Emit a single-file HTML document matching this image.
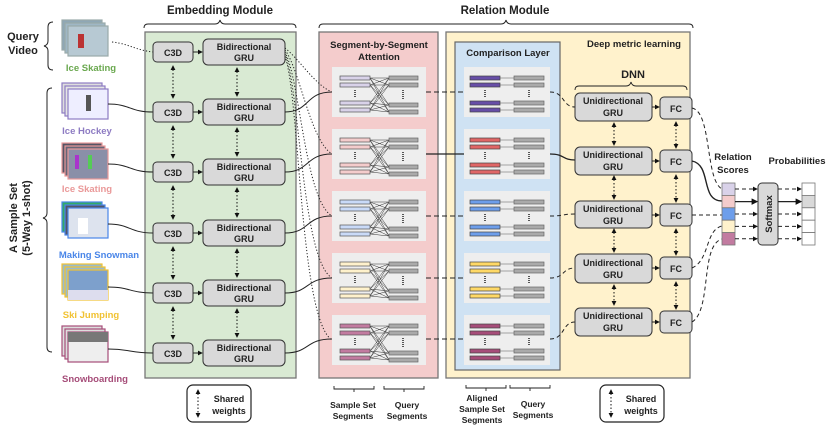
<!DOCTYPE html>
<html><head><meta charset="utf-8"><style>
html,body{margin:0;padding:0;background:#fff}
svg{display:block}
text{font-family:"Liberation Sans",Arial,sans-serif;font-weight:bold;fill:#222}
</style></head><body>
<svg width="830" height="427" viewBox="0 0 830 427" xmlns="http://www.w3.org/2000/svg">
<defs>
<marker id="ah" viewBox="0 0 6 6" refX="5" refY="3" markerWidth="5" markerHeight="5" orient="auto-start-reverse"><path d="M0,0L6,3L0,6z" fill="#111"/></marker>
<g id="pA">
<rect x="0" y="0" width="94" height="50" fill="#eeeeee"/>
<g stroke="#333" stroke-width="0.5">
<path d="M38,11L57,11M38,11L57,18M38,11L57,38M38,11L57,45M38,18L57,11M38,18L57,18M38,18L57,38M38,18L57,45M38,36L57,11M38,36L57,18M38,36L57,38M38,36L57,45M38,43L57,11M38,43L57,18M38,43L57,38M38,43L57,45"/>
</g>
<g stroke="#555" stroke-width="0.7">
<rect x="8" y="9" width="30" height="4"/><rect x="8" y="16" width="30" height="4"/>
<rect x="8" y="34" width="30" height="4"/><rect x="8" y="41" width="30" height="4"/>
</g>
<g stroke="#666" stroke-width="0.7" fill="#aaa">
<rect x="57" y="9" width="29" height="4"/><rect x="57" y="16" width="29" height="4"/>
<rect x="57" y="36" width="29" height="4"/><rect x="57" y="43" width="29" height="4"/>
</g>
<g stroke="#222" stroke-width="1.5" stroke-dasharray="1,1">
<line x1="23" y1="23" x2="23" y2="31"/><line x1="71" y1="23" x2="71" y2="32"/>
</g>
</g>
<g id="pB">
<rect x="0" y="0" width="86" height="50" fill="#eeeeee"/>
<g stroke="#888" stroke-width="0.8">
<path d="M36,11L50,11M36,18L50,18M36,36L50,36M36,43L50,43"/>
</g>
<g stroke="#444" stroke-width="0.7">
<rect x="6" y="9" width="30" height="4"/><rect x="6" y="16" width="30" height="4"/>
<rect x="6" y="34" width="30" height="4"/><rect x="6" y="41" width="30" height="4"/>
</g>
<g stroke="#666" stroke-width="0.7" fill="#aaa">
<rect x="50" y="9" width="30" height="4"/><rect x="50" y="16" width="30" height="4"/>
<rect x="50" y="34" width="30" height="4"/><rect x="50" y="41" width="30" height="4"/>
</g>
<g stroke="#222" stroke-width="1.5" stroke-dasharray="1,1">
<line x1="21" y1="23" x2="21" y2="31"/><line x1="65" y1="23" x2="65" y2="31"/>
</g>
</g>
</defs>

<text x="220" y="14" font-size="11.5" text-anchor="middle">Embedding Module</text>
<path d="M144,28 q0,-4 4,-4 h67 q4,0 5,-4 q1,4 5,4 h67 q4,0 4,4" fill="none" stroke="#222" stroke-width="1"/>
<text x="505" y="14" font-size="11.5" text-anchor="middle">Relation Module</text>
<path d="M319,28 q0,-4 4,-4 h178 q4,0 5,-4 q1,4 5,4 h178 q4,0 4,4" fill="none" stroke="#222" stroke-width="1"/>

<rect x="145" y="32" width="151" height="346" fill="#d9ead3" stroke="#777" stroke-width="1.3"/>
<rect x="319" y="32" width="119" height="346" fill="#f4cccc" stroke="#777" stroke-width="1.3"/>
<rect x="446" y="32" width="244" height="346" fill="#fff2cc" stroke="#777" stroke-width="1.3"/>
<rect x="455" y="42" width="105" height="328" fill="#cfe2f3" stroke="#666" stroke-width="1.2"/>
<text x="379" y="48" font-size="9.5" text-anchor="middle">Segment-by-Segment</text>
<text x="379" y="60" font-size="9.5" text-anchor="middle">Attention</text>
<text x="508" y="56" font-size="9.5" text-anchor="middle">Comparison Layer</text>
<text x="634" y="47" font-size="9.5" text-anchor="middle">Deep metric learning</text>
<text x="633" y="78" font-size="11" text-anchor="middle">DNN</text>
<path d="M575,90 q0,-4 4,-4 h47 q4,0 5,-4 q1,4 5,4 h47 q4,0 4,4" fill="none" stroke="#222" stroke-width="0.9"/>

<text x="23" y="40" font-size="11" text-anchor="middle">Query</text>
<text x="23" y="54" font-size="11" text-anchor="middle">Video</text>
<path d="M53,22 q-5,0 -5,5 v14 q0,4 -4,5 q4,1 4,5 v14 q0,5 5,5" fill="none" stroke="#222" stroke-width="1"/>
<text transform="translate(17,218) rotate(-90)" font-size="11" text-anchor="middle">A Sample Set</text>
<text transform="translate(30,218) rotate(-90)" font-size="11" text-anchor="middle">(5-Way 1-shot)</text>
<path d="M52,88 q-5,0 -5,5 v120 q0,4 -4,5 q4,1 4,5 v124 q0,5 5,5" fill="none" stroke="#222" stroke-width="1"/>

<g stroke-width="1.2">
<g stroke="#9aa"><rect x="62" y="20" width="40" height="30" fill="#8fa7b5"/><rect x="65" y="23" width="40" height="30" fill="#9fb7c5"/><rect x="68" y="26" width="40" height="30" fill="#b7c9d3"/><rect x="78" y="34" width="6" height="14" fill="#b33" stroke="none"/></g>
<g stroke="#8e7cc3"><rect x="62" y="83" width="40" height="30" fill="#ddd"/><rect x="65" y="86" width="40" height="30" fill="#e5e5e5"/><rect x="68" y="89" width="40" height="30" fill="#eef"/><rect x="86" y="95" width="5" height="16" fill="#555" stroke="none"/></g>
<g stroke="#ea9999"><rect x="62" y="143" width="40" height="30" fill="#556"/><rect x="65" y="146" width="40" height="30" fill="#667"/><rect x="68" y="149" width="40" height="30" fill="#8a8fa8"/><rect x="75" y="155" width="4" height="14" fill="#a3c" stroke="none"/><rect x="88" y="155" width="4" height="14" fill="#5c5" stroke="none"/></g>
<g stroke="#4a86e8"><rect x="62" y="202" width="40" height="30" fill="#3a6"/><rect x="65" y="205" width="40" height="30" fill="#556"/><rect x="68" y="208" width="40" height="30" fill="#dde3ee"/><rect x="78" y="218" width="10" height="16" fill="#fff" stroke="none"/></g>
<g stroke="#f1c232"><rect x="62" y="264" width="40" height="30" fill="#9bc"/><rect x="65" y="267" width="40" height="30" fill="#9bc"/><rect x="68" y="270" width="40" height="30" fill="#7da0cc"/><rect x="68" y="290" width="40" height="10" fill="#dde" stroke="none"/></g>
<g stroke="#a64d79"><rect x="62" y="326" width="40" height="30" fill="#ddd"/><rect x="65" y="329" width="40" height="30" fill="#ddd"/><rect x="68" y="332" width="40" height="30" fill="#eee"/><rect x="68" y="332" width="40" height="10" fill="#777" stroke="none"/></g>
</g>
<g font-size="9.5" text-anchor="middle">
<text x="91" y="71" style="fill:#6aa84f">Ice Skating</text>
<text x="87" y="134" style="fill:#8e7cc3">Ice Hockey</text>
<text x="87" y="192" style="fill:#ea9999">Ice Skating</text>
<text x="99" y="258" style="fill:#4a86e8">Making Snowman</text>
<text x="91" y="318" style="fill:#f1c232">Ski Jumping</text>
<text x="95" y="382" style="fill:#a64d79">Snowboarding</text>
</g>

<path d="M112,42 C130,44 135,50 153,52" fill="none" stroke="#222" stroke-width="1" stroke-dasharray="1.2,2"/>
<g fill="none" stroke="#222" stroke-width="1">
<path d="M108,104 C130,104 130,112 153,112"/>
<path d="M108,164 C130,164 130,172 153,172"/>
<path d="M108,224 C130,224 130,233 153,233"/>
<path d="M108,287 C130,287 130,293 153,293"/>
<path d="M108,349 C130,349 130,353 153,353"/>
</g>

<g stroke="#333" stroke-width="1" fill="#d9d9d9">
<rect x="153" y="42" width="40" height="20" rx="4"/>
<rect x="153" y="102" width="40" height="20" rx="4"/>
<rect x="153" y="162" width="40" height="20" rx="4"/>
<rect x="153" y="223" width="40" height="20" rx="4"/>
<rect x="153" y="283" width="40" height="20" rx="4"/>
<rect x="153" y="343" width="40" height="20" rx="4"/>
<rect x="203" y="39" width="82" height="26" rx="5"/>
<rect x="203" y="99" width="82" height="26" rx="5"/>
<rect x="203" y="159" width="82" height="26" rx="5"/>
<rect x="203" y="220" width="82" height="26" rx="5"/>
<rect x="203" y="280" width="82" height="26" rx="5"/>
<rect x="203" y="340" width="82" height="26" rx="5"/>
</g>
<g font-size="9" text-anchor="middle">
<text x="173" y="56">C3D</text><text x="173" y="116">C3D</text><text x="173" y="176">C3D</text>
<text x="173" y="237">C3D</text><text x="173" y="297">C3D</text><text x="173" y="357">C3D</text>
<text x="244" y="50">Bidirectional</text><text x="244" y="61">GRU</text>
<text x="244" y="110">Bidirectional</text><text x="244" y="121">GRU</text>
<text x="244" y="170">Bidirectional</text><text x="244" y="181">GRU</text>
<text x="244" y="231">Bidirectional</text><text x="244" y="242">GRU</text>
<text x="244" y="291">Bidirectional</text><text x="244" y="302">GRU</text>
<text x="244" y="351">Bidirectional</text><text x="244" y="362">GRU</text>
</g>
<g stroke="#222" stroke-width="1" marker-end="url(#ah)">
<line x1="193" y1="52" x2="202" y2="52"/><line x1="193" y1="112" x2="202" y2="112"/>
<line x1="193" y1="172" x2="202" y2="172"/><line x1="193" y1="233" x2="202" y2="233"/>
<line x1="193" y1="293" x2="202" y2="293"/><line x1="193" y1="353" x2="202" y2="353"/>
</g>
<g stroke="#111" stroke-width="1" stroke-dasharray="1.5,2" marker-start="url(#ah)" marker-end="url(#ah)">
<line x1="173" y1="66" x2="173" y2="98"/><line x1="173" y1="126" x2="173" y2="158"/>
<line x1="173" y1="186" x2="173" y2="219"/><line x1="173" y1="247" x2="173" y2="279"/>
<line x1="173" y1="307" x2="173" y2="339"/>
<line x1="237" y1="68" x2="237" y2="96"/><line x1="237" y1="128" x2="237" y2="156"/>
<line x1="237" y1="188" x2="237" y2="217"/><line x1="237" y1="249" x2="237" y2="277"/>
<line x1="237" y1="309" x2="237" y2="337"/>
<line x1="614" y1="123" x2="614" y2="145"/><line x1="614" y1="176" x2="614" y2="199"/>
<line x1="614" y1="229" x2="614" y2="252"/><line x1="614" y1="285" x2="614" y2="305"/>
<line x1="676" y1="122" x2="676" y2="148"/><line x1="676" y1="175" x2="676" y2="202"/>
<line x1="676" y1="229" x2="676" y2="255"/><line x1="676" y1="282" x2="676" y2="309"/>
</g>

<g fill="none" stroke="#222" stroke-width="1" stroke-dasharray="1.2,2">
<path d="M285,48 C300,60 315,85 332,92"/>
<path d="M285,50 C300,70 310,140 332,154"/>
<path d="M285,52 C300,80 305,200 332,216"/>
<path d="M285,54 C300,90 302,260 332,278"/>
<path d="M285,56 C300,100 300,320 332,340"/>
</g>
<g fill="none" stroke="#222" stroke-width="1">
<path d="M285,112 C310,112 305,92 332,92"/>
<path d="M285,172 C310,172 305,154 332,154"/>
<path d="M285,233 C310,233 305,216 332,216"/>
<path d="M285,293 C310,293 305,278 332,278"/>
<path d="M285,353 C310,353 305,339 332,339"/>
</g>

<use href="#pA" x="332" y="67" fill="#d9d2e9"/>
<use href="#pA" x="332" y="129" fill="#f4cccc"/>
<use href="#pA" x="332" y="191" fill="#c9daf8"/>
<use href="#pA" x="332" y="253" fill="#fff2cc"/>
<use href="#pA" x="332" y="315" fill="#c27ba0"/>
<use href="#pB" x="464" y="67" fill="#674ea7"/>
<use href="#pB" x="464" y="129" fill="#e06666"/>
<use href="#pB" x="464" y="191" fill="#6d9eeb"/>
<use href="#pB" x="464" y="253" fill="#ffd966"/>
<use href="#pB" x="464" y="315" fill="#a64d79"/>

<g fill="none" stroke="#222" stroke-width="1">
<path d="M426,92H464" stroke-dasharray="5,3"/>
<path d="M426,154H464" stroke-width="1.3"/>
<path d="M426,216H464" stroke-dasharray="5,3"/>
<path d="M426,278H464" stroke-dasharray="5,3"/>
<path d="M426,339H464" stroke-dasharray="5,3"/>
<path d="M550,92 C565,92 562,107 575,107" stroke-dasharray="4,3"/>
<path d="M550,154 C565,154 562,160 575,160" stroke-width="1.3"/>
<path d="M550,216 C565,216 562,214 575,214" stroke-dasharray="4,3"/>
<path d="M550,278 C565,278 562,268 575,268" stroke-dasharray="4,3"/>
<path d="M550,339 C565,339 562,322 575,322" stroke-dasharray="4,3"/>
</g>

<g stroke="#333" stroke-width="1" fill="#d9d9d9">
<rect x="575" y="93" width="77" height="28" rx="5"/>
<rect x="575" y="147" width="77" height="28" rx="5"/>
<rect x="575" y="201" width="77" height="27" rx="5"/>
<rect x="575" y="254" width="77" height="29" rx="5"/>
<rect x="575" y="308" width="77" height="28" rx="5"/>
<rect x="660" y="97" width="32" height="22" rx="4"/>
<rect x="660" y="150" width="32" height="22" rx="4"/>
<rect x="660" y="204" width="32" height="22" rx="4"/>
<rect x="660" y="257" width="32" height="22" rx="4"/>
<rect x="660" y="311" width="32" height="22" rx="4"/>
</g>
<g font-size="9" text-anchor="middle">
<text x="613" y="104">Unidirectional</text><text x="613" y="116">GRU</text>
<text x="613" y="158">Unidirectional</text><text x="613" y="170">GRU</text>
<text x="613" y="212">Unidirectional</text><text x="613" y="224">GRU</text>
<text x="613" y="266">Unidirectional</text><text x="613" y="278">GRU</text>
<text x="613" y="319">Unidirectional</text><text x="613" y="331">GRU</text>
<text x="676" y="112">FC</text><text x="676" y="165">FC</text><text x="676" y="219">FC</text>
<text x="676" y="272">FC</text><text x="676" y="326">FC</text>
</g>
<g stroke="#222" stroke-width="1" marker-end="url(#ah)">
<line x1="652" y1="107" x2="659" y2="107"/><line x1="652" y1="161" x2="659" y2="161"/>
<line x1="652" y1="215" x2="659" y2="215"/><line x1="652" y1="268" x2="659" y2="268"/>
<line x1="652" y1="322" x2="659" y2="322"/>
</g>
<g fill="none" stroke="#222" stroke-width="1">
<path d="M692,108 C712,112 705,180 722,189" stroke-dasharray="4,3"/>
<path d="M692,161 C712,165 700,201 722,201" stroke-width="1.4"/>
<path d="M692,215 H722" stroke-dasharray="4,3"/>
<path d="M692,268 C710,260 705,230 722,226" stroke-dasharray="4,3"/>
<path d="M692,322 C712,310 700,245 722,239" stroke-dasharray="4,3"/>
</g>

<text x="733" y="160" font-size="9.5" text-anchor="middle">Relation</text>
<text x="733" y="173" font-size="9.5" text-anchor="middle">Scores</text>
<text x="797" y="164" font-size="9.5" text-anchor="middle">Probabilities</text>
<g stroke="#777" stroke-width="0.8">
<rect x="722" y="183" width="13" height="12.4" fill="#d9d2e9"/>
<rect x="722" y="195.4" width="13" height="12.4" fill="#f4cccc"/>
<rect x="722" y="207.8" width="13" height="12.4" fill="#6d9eeb"/>
<rect x="722" y="220.2" width="13" height="12.4" fill="#fff2cc"/>
<rect x="722" y="232.6" width="13" height="12.4" fill="#c27ba0"/>
<rect x="802" y="183" width="13" height="12.4" fill="#fff"/>
<rect x="802" y="195.4" width="13" height="12.4" fill="#d9d9d9"/>
<rect x="802" y="207.8" width="13" height="12.4" fill="#fff"/>
<rect x="802" y="220.2" width="13" height="12.4" fill="#fff"/>
<rect x="802" y="232.6" width="13" height="12.4" fill="#fff"/>
</g>
<rect x="758" y="183" width="20" height="62" rx="4" fill="#d9d9d9" stroke="#333" stroke-width="1"/>
<text transform="translate(772,214) rotate(-90)" font-size="9.5" text-anchor="middle">Softmax</text>
<g stroke="#222" stroke-width="1" marker-end="url(#ah)">
<line x1="735" y1="189" x2="757" y2="189" stroke-dasharray="4,3"/>
<line x1="735" y1="201.6" x2="757" y2="201.6" stroke-width="1.3"/>
<line x1="735" y1="214" x2="757" y2="214" stroke-dasharray="4,3"/>
<line x1="735" y1="226.4" x2="757" y2="226.4" stroke-dasharray="4,3"/>
<line x1="735" y1="238.8" x2="757" y2="238.8" stroke-dasharray="4,3"/>
<line x1="778" y1="189" x2="801" y2="189" stroke-dasharray="4,3"/>
<line x1="778" y1="201.6" x2="801" y2="201.6" stroke-width="1.3"/>
<line x1="778" y1="214" x2="801" y2="214" stroke-dasharray="4,3"/>
<line x1="778" y1="226.4" x2="801" y2="226.4" stroke-dasharray="4,3"/>
<line x1="778" y1="238.8" x2="801" y2="238.8" stroke-dasharray="4,3"/>
</g>

<rect x="187" y="385" width="64" height="37" rx="6" fill="#fff" stroke="#222" stroke-width="1.2"/>
<text x="229" y="402" font-size="9" text-anchor="middle">Shared</text>
<text x="229" y="414" font-size="9" text-anchor="middle">weights</text>
<rect x="600" y="385" width="64" height="37" rx="6" fill="#fff" stroke="#222" stroke-width="1.2"/>
<text x="641" y="402" font-size="9" text-anchor="middle">Shared</text>
<text x="641" y="414" font-size="9" text-anchor="middle">weights</text>
<g stroke="#111" stroke-width="1" stroke-dasharray="1.5,2" marker-start="url(#ah)" marker-end="url(#ah)">
<line x1="198" y1="390" x2="198" y2="417"/><line x1="611" y1="390" x2="611" y2="417"/>
</g>

<g fill="none" stroke="#222" stroke-width="0.9">
<path d="M334,386 v3 h40 v-3 M354,389 v3"/>
<path d="M384,386 v3 h40 v-3 M404,389 v3"/>
<path d="M466,385 v3 h40 v-3 M486,388 v3"/>
<path d="M510,385 v3 h40 v-3 M530,388 v3"/>
</g>
<g font-size="8.5" text-anchor="middle">
<text x="353" y="408">Sample Set</text><text x="353" y="419">Segments</text>
<text x="407" y="408">Query</text><text x="407" y="419">Segments</text>
<text x="482" y="401">Aligned</text><text x="482" y="412">Sample Set</text><text x="482" y="423">Segments</text>
<text x="533" y="407">Query</text><text x="533" y="418">Segments</text>
</g>
</svg>
</body></html>
